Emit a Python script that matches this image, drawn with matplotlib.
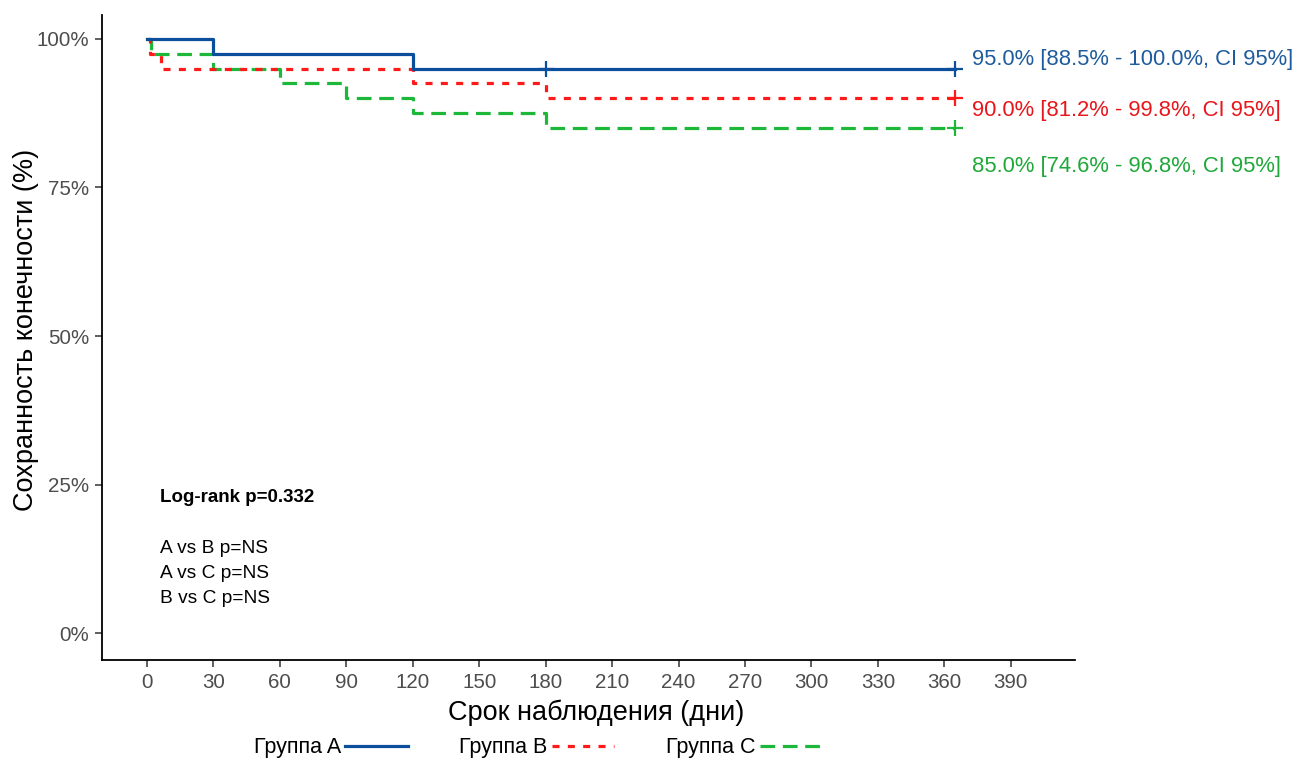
import matplotlib
matplotlib.use("Agg")
import matplotlib.pyplot as plt
from matplotlib.lines import Line2D

plt.rcParams['font.family'] = ['Liberation Sans', 'DejaVu Sans']

# ---- data ----
a_times = [0, 30, 120, 365]
a_surv = [100, 97.5, 95, 95]
b_times = [0, 1.5, 6.5, 120, 180, 365]
b_surv = [100, 97.5, 95, 92.5, 90, 90]
c_times = [0, 2, 30, 60, 90, 120, 180, 365]
c_surv = [100, 97.5, 95, 92.5, 90, 87.5, 85, 85]

a_cens_t = [180, 365]
a_cens_s = [95, 95]
b_cens_t = [365]
b_cens_s = [90]
c_cens_t = [365]
c_cens_s = [85]

group_names = ["Группа A", "Группа B", "Группа C"]
end_labels = ["95.0% [88.5% - 100.0%, CI 95%]",
              "90.0% [81.2% - 99.8%, CI 95%]",
              "85.0% [74.6% - 96.8%, CI 95%]"]
end_label_y = [96.5, 87.9, 78.5]
pair_labels = ["A vs B p=NS", "A vs C p=NS", "B vs C p=NS"]
logrank_label = "Log-rank p=0.332"
x_ticks = list(range(0, 391, 30))
y_ticks = [0, 25, 50, 75, 100]

col_line = ["#0b4f9c", "#ff1a1a", "#1db83a"]
col_text = ["#1f5c9e", "#e8161b", "#20a83a"]

fig = plt.figure(figsize=(13.05, 7.65), dpi=100)
ax = fig.add_axes([102/1305, 1-660/765, (1075-102)/1305, (660-15)/765])

lw = 2.3
styles = ['-', (0, (2.2, 2.6)), (0, (4.6, 2.4))]
series = [(a_times, a_surv, a_cens_t, a_cens_s),
          (b_times, b_surv, b_cens_t, b_cens_s),
          (c_times, c_surv, c_cens_t, c_cens_s)]
# draw order: C, B, A on top
for idx in [2, 1, 0]:
    t, s, ct, cs = series[idx]
    ax.step(t, s, where='post', color=col_line[idx], lw=lw, linestyle=styles[idx],
            zorder=3 + (2 - idx))
    ax.plot(ct, cs, linestyle='none', marker='+', markersize=11, mew=1.6,
            color=col_line[idx], zorder=6)

for i in range(3):
    ax.text(372.3, end_label_y[i], end_labels[i], color=col_text[i], fontsize=15.8,
            ha='left', va='center', clip_on=False)

ax.text(5.8, 22.9, logrank_label, fontsize=13.5, fontweight='bold', ha='left', va='center')
for i, lab in enumerate(pair_labels):
    ax.text(5.8, 14.3 - 4.2 * i, lab, fontsize=13.8, ha='left', va='center')

ax.set_xlim(-20.3, 419)
ax.set_ylim(-4.5, 104)
ax.set_xticks(x_ticks)
ax.set_xticklabels([str(v) for v in x_ticks])
ax.set_yticks(y_ticks)
ax.set_yticklabels([f"{v}%" for v in y_ticks])
for sp in ['top', 'right']:
    ax.spines[sp].set_visible(False)
for sp in ['left', 'bottom']:
    ax.spines[sp].set_linewidth(1.3)
ax.tick_params(axis='both', labelsize=14.8, colors='#333333', length=5, width=1.1,
               labelcolor='#4d4d4d', pad=4)
ax.set_xlabel("Срок наблюдения (дни)", fontsize=19.5)
ax.set_ylabel("Сохранность конечности (%)", fontsize=19.5)
ax.xaxis.set_label_coords((596 - 102) / 973, (660 - 700) / 645)
ax.yaxis.set_label_coords((39 - 102) / 973, (660 - 330) / 645)

handles = [Line2D([], [], color=col_line[i], lw=lw, linestyle=styles[i]) for i in range(3)]
leg = fig.legend(handles, group_names, loc='center', bbox_to_anchor=(538 / 1305, 1 - 748 / 765),
                 ncol=3, frameon=False, fontsize=15.5, markerfirst=False,
                 handlelength=2.9, columnspacing=2.4, handletextpad=0.2)

fig.savefig("out.png", dpi=100)
